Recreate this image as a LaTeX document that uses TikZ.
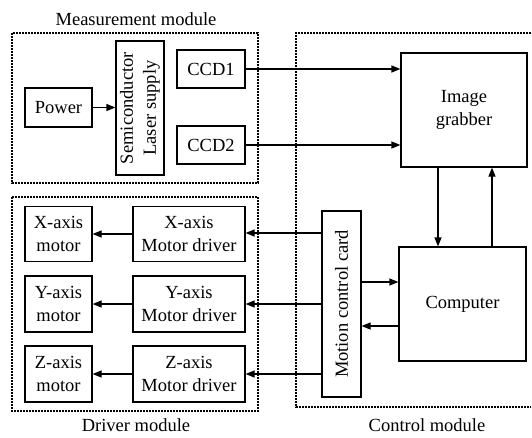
\documentclass[tikz,border=0pt]{standalone}
\usepackage{fontspec}
\setmainfont{Liberation Serif}
\usetikzlibrary{arrows.meta}
\begin{document}
\begin{tikzpicture}[x=1pt,y=-1pt,
  box/.style={draw, line width=1.2pt, align=center, inner sep=0pt, font=\fontsize{18.5}{23}\selectfont},
  modline/.style={line width=1.8pt, dash pattern=on 1.6pt off 1.4pt},
  lbl/.style={font=\fontsize{18.5}{23}\selectfont, inner sep=0pt},
  arr/.style={-{Triangle[length=9pt,width=7pt]}, line width=1.2pt}]
\useasboundingbox (0,0) rectangle (532,437);
% module frames
\draw[modline] (12,33) rectangle (258,183);
\draw[modline] (12,197) rectangle (258,411);
\draw[modline] (531,33) -- (296,33) -- (296,407) -- (531,407);
\node[lbl] (tm) at (136,19) {Measurement module};
\node[lbl] (td) at (136,425) {Driver module};
\node[lbl] (tc) at (427,425) {Control module};
% measurement module
\node[box, minimum width=67pt, minimum height=39pt] (power) at (58.5,107.5) {Power};
\node[box, rotate=90, minimum width=134pt, minimum height=48pt] (laser) at (140,108) {Semiconductor\\Laser supply};
\node[box, minimum width=68pt, minimum height=38pt] (ccd1) at (211,69) {CCD1};
\node[box, minimum width=68pt, minimum height=38pt] (ccd2) at (211,145) {CCD2};
% control module
\node[box, minimum width=126pt, minimum height=114pt] (grab) at (464,110) {Image\\grabber};
\node[box, minimum width=127pt, minimum height=114pt] (comp) at (462.5,304) {Computer};
\node[box, rotate=90, minimum width=186pt, minimum height=39pt] (card) at (341.5,304) {Motion control card};
% driver module
\node[box, minimum width=67pt, minimum height=55pt] (xm) at (58.5,234) {X-axis\\motor};
\node[box, minimum width=67pt, minimum height=56pt] (ym) at (58.5,304) {Y-axis\\motor};
\node[box, minimum width=67pt, minimum height=56pt] (zm) at (58.5,374) {Z-axis\\motor};
\node[box, minimum width=112pt, minimum height=55pt] (xd) at (189,234) {X-axis\\Motor driver};
\node[box, minimum width=112pt, minimum height=56pt] (yd) at (189,304) {Y-axis\\Motor driver};
\node[box, minimum width=112pt, minimum height=56pt] (zd) at (189,374) {Z-axis\\Motor driver};
% connectors
\draw[arr] (power.east) -- (power.east -| laser.north);
\draw[arr] (ccd1.east) -- (ccd1.east -| grab.west);
\draw[arr] (ccd2.east) -- (ccd2.east -| grab.west);
\draw[arr] (grab.south -| 438,0) -- (comp.north -| 438,0);
\draw[arr] (comp.north -| 492,0) -- (grab.south -| 492,0);
\draw[arr] (card.south |- 0,282) -- (comp.west |- 0,282);
\draw[arr] (comp.west |- 0,326) -- (card.south |- 0,326);
\draw[arr] (card.north |- 0,233) -- (xd.east |- 0,233);
\draw[arr] (card.north |- 0,304) -- (yd.east);
\draw[arr] (card.north |- 0,374) -- (zd.east);
\draw[arr] (xd.west) -- (xm.east);
\draw[arr] (yd.west) -- (ym.east);
\draw[arr] (zd.west) -- (zm.east);
\end{tikzpicture}
\end{document}
